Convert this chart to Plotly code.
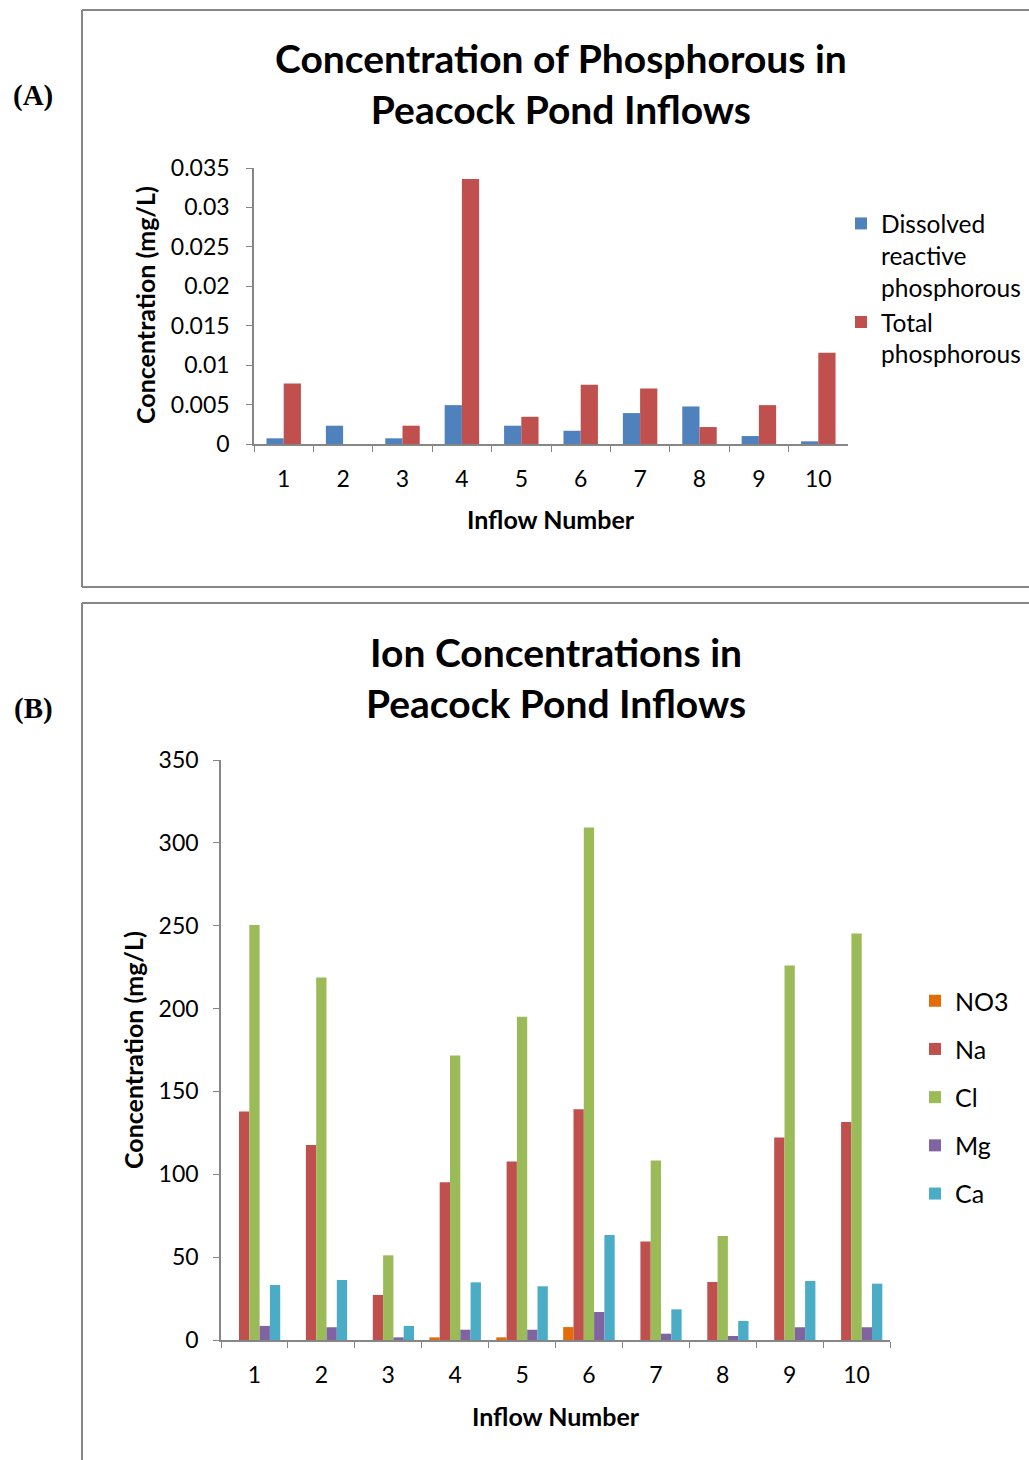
import plotly.graph_objects as go

W, H = 1029, 1460

# ---------- data ----------
inflows = ["1", "2", "3", "4", "5", "6", "7", "8", "9", "10"]
drp = [0.00072, 0.00232, 0.00072, 0.00493, 0.00232, 0.00168, 0.00392, 0.00476, 0.00101, 0.00034]
tp = [0.00767, 0.0, 0.00232, 0.0336, 0.00345, 0.0075, 0.00703, 0.00215, 0.00493, 0.01158]

no3 = [0, 0, 0, 1.6, 1.6, 7.8, 0, 0, 0, 0]
na = [137.9, 117.7, 27.2, 95.2, 107.7, 139.3, 59.5, 35.0, 122.2, 131.6]
cl = [250.5, 218.7, 51.1, 171.7, 195.0, 309.3, 108.3, 62.8, 226.0, 245.3]
mg = [8.5, 7.7, 1.6, 6.2, 6.2, 16.9, 3.8, 2.4, 7.7, 7.7]
ca = [33.2, 36.2, 8.5, 34.8, 32.4, 63.4, 18.5, 11.5, 35.6, 34.0]

FONT = "Lato"
GREY = "#868686"


def px(x):
    return x / W


def py(y):
    return 1 - y / H


fig = go.Figure()

# ---------- panel A ----------
bw = 0.29
fig.add_trace(go.Bar(x=inflows, y=drp, name="Dissolved<br>reactive<br>phosphorous",
                     marker=dict(color="#4F81BD", line=dict(width=0)),
                     width=bw, offset=-bw, xaxis="x", yaxis="y", legend="legend", legendgroup="a1"))
fig.add_trace(go.Bar(x=inflows, y=tp, name="Total<br>phosphorous",
                     marker=dict(color="#C0504D", line=dict(width=0)),
                     width=bw, offset=0, xaxis="x", yaxis="y", legend="legend", legendgroup="a2"))

# ---------- panel B ----------
series_b = [("NO3", no3, "#E36C09"), ("Na", na, "#C0504D"), ("Cl", cl, "#9BBB59"),
            ("Mg", mg, "#8064A2"), ("Ca", ca, "#4BACC6")]
bwb = 0.154
for i, (nm, vals, col) in enumerate(series_b):
    fig.add_trace(go.Bar(x=inflows, y=vals, name=nm,
                         marker=dict(color=col, line=dict(width=0)),
                         width=bwb, offset=-2.5 * bwb + i * bwb,
                         xaxis="x2", yaxis="y2", legend="legend2", legendgroup="b" + nm))

axis_common = dict(showline=True, linecolor=GREY, linewidth=1.5, ticks="outside",
                   tickcolor=GREY, ticklen=6, showgrid=False, zeroline=False,
                   tickfont=dict(family=FONT, size=23, color="#000"), automargin=False)

fig.update_layout(
    width=W, height=H,
    margin=dict(l=0, r=0, t=0, b=0),
    paper_bgcolor="white", plot_bgcolor="white",
    barmode="group", showlegend=True,
    font=dict(family=FONT, color="#000"),
    xaxis=dict(domain=[px(254), px(848)], anchor="y", type="category",
               tickson="boundaries", ticklabelstandoff=14, **axis_common),
    yaxis=dict(domain=[py(444), py(168)], anchor="x", range=[0, 0.035], dtick=0.005,
               ticklabelstandoff=12, **axis_common),
    xaxis2=dict(domain=[px(221), px(890)], anchor="y2", type="category",
                tickson="boundaries", ticklabelstandoff=14, **axis_common),
    yaxis2=dict(domain=[py(1340), py(760)], anchor="x2", range=[0, 350], dtick=50,
                ticklabelstandoff=10, **axis_common),
    legend=dict(x=px(841), y=py(201), xanchor="left", yanchor="top", valign="top",
                font=dict(family=FONT, size=24.5, color="#000"), bgcolor="rgba(0,0,0,0)",
                tracegroupgap=0, itemwidth=30),
    legend2=dict(x=px(915), y=py(978), xanchor="left", yanchor="top",
                 font=dict(family=FONT, size=25, color="#000"), bgcolor="rgba(0,0,0,0)",
                 tracegroupgap=12.7, itemwidth=30),
)

# borders
border = dict(color=GREY, width=2)
shapes = [
    dict(type="line", xref="paper", yref="paper", x0=px(82), x1=px(82), y0=py(10), y1=py(587), line=border),
    dict(type="line", xref="paper", yref="paper", x0=px(82), x1=1, y0=py(10), y1=py(10), line=border),
    dict(type="line", xref="paper", yref="paper", x0=px(82), x1=1, y0=py(587), y1=py(587), line=border),
    dict(type="line", xref="paper", yref="paper", x0=px(82), x1=px(82), y0=py(603), y1=0, line=border),
    dict(type="line", xref="paper", yref="paper", x0=px(82), x1=1, y0=py(603), y1=py(603), line=border),
]
fig.update_layout(shapes=shapes)

ann = []
def text(x, y, s, size, bold=False, angle=0, family=FONT, xanchor="center"):
    ann.append(dict(x=px(x), y=py(y), xref="paper", yref="paper", text=("<b>%s</b>" % s) if bold else s,
                    showarrow=False, textangle=angle, xanchor=xanchor, yanchor="middle",
                    font=dict(family=family, size=size, color="#000")))

text(561, 84, "Concentration of Phosphorous in<br>Peacock Pond Inflows", 39, bold=True)
text(556, 677, "Ion Concentrations in<br>Peacock Pond Inflows", 39, bold=True)
text(145, 305, "Concentration (mg/L)", 25, bold=True, angle=-90)
text(133, 1050, "Concentration (mg/L)", 25, bold=True, angle=-90)
text(551, 519, "Inflow Number", 25, bold=True)
text(556, 1416, "Inflow Number", 25, bold=True)
text(33, 95, "(A)", 29, bold=True, family="Liberation Serif")
text(33, 709, "(B)", 29, bold=True, family="Liberation Serif")
fig.update_layout(annotations=ann)

fig.write_html("out.html")
